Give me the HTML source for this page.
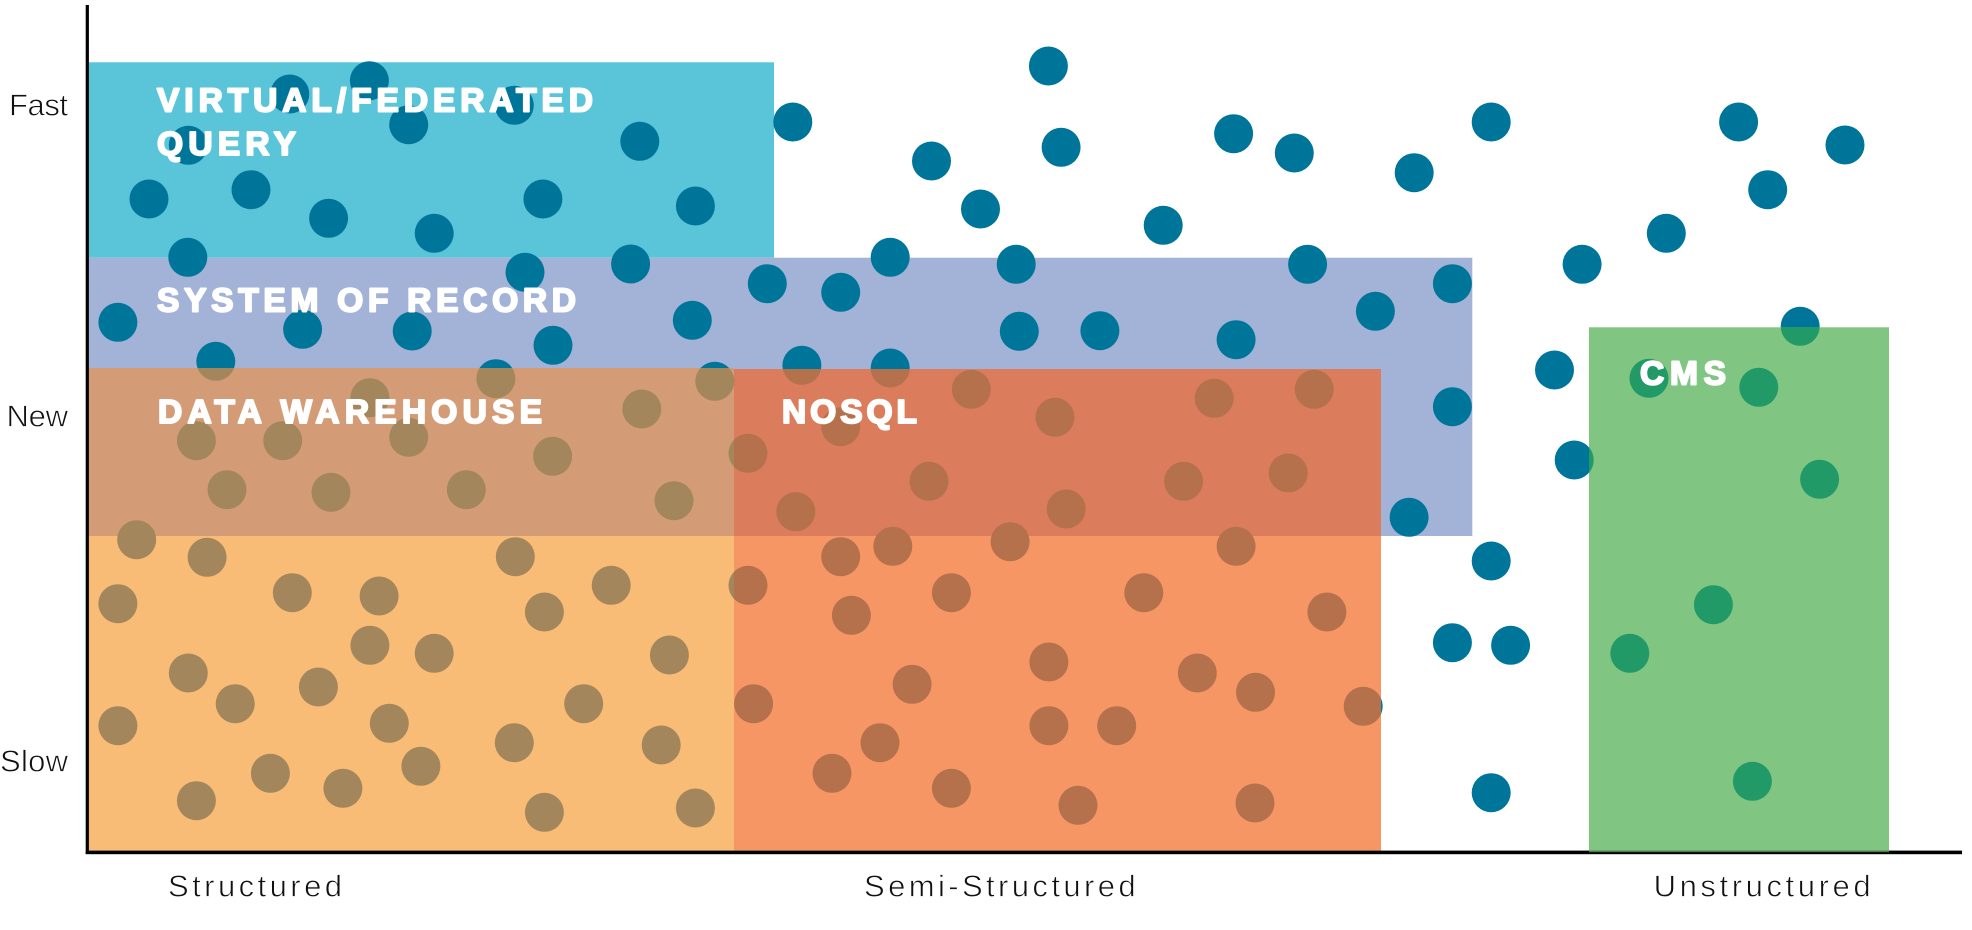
<!DOCTYPE html>
<html lang="en">
<head>
<meta charset="utf-8">
<title>Data store chart</title>
<style>
html,body{margin:0;padding:0;background:#fff;width:1972px;height:930px;overflow:hidden}
svg{display:block}
.b{font-family:"Liberation Sans",sans-serif;font-weight:700;font-size:33.5px;fill:#fff;stroke:#fff;stroke-width:2px;stroke-linejoin:round}
.t{font-family:"Liberation Sans",sans-serif;font-size:31px;fill:#111;stroke:#fff;stroke-width:0.7px}
</style>
</head>
<body>
<svg xmlns="http://www.w3.org/2000/svg" width="1972" height="930" viewBox="0 0 1972 930">
<defs>
<g id="d">
<circle cx="289.8" cy="94" r="19.5"/><circle cx="369.4" cy="80.7" r="19.5"/><circle cx="514.3" cy="105.3" r="19.5"/><circle cx="408.7" cy="124.7" r="19.5"/><circle cx="188.3" cy="145.3" r="19.5"/><circle cx="639.8" cy="141.3" r="19.5"/><circle cx="149" cy="199" r="19.5"/><circle cx="251" cy="189.7" r="19.5"/><circle cx="328.6" cy="218.3" r="19.5"/><circle cx="434.2" cy="233.3" r="19.5"/><circle cx="542.9" cy="199" r="19.5"/><circle cx="695.4" cy="206" r="19.5"/><circle cx="792.8" cy="122" r="19.5"/><circle cx="187.8" cy="257.3" r="19.5"/><circle cx="525" cy="272.3" r="19.5"/><circle cx="630.6" cy="264" r="19.5"/><circle cx="767.3" cy="283.7" r="19.5"/><circle cx="117.9" cy="322.3" r="19.5"/><circle cx="302.6" cy="329.3" r="19.5"/><circle cx="412.2" cy="331" r="19.5"/><circle cx="553" cy="345.3" r="19.5"/><circle cx="692.3" cy="320.3" r="19.5"/><circle cx="215.8" cy="361.3" r="19.5"/><circle cx="495.9" cy="378.7" r="19.5"/><circle cx="714.8" cy="381.3" r="19.5"/><circle cx="369.9" cy="397.7" r="19.5"/><circle cx="641.8" cy="409" r="19.5"/><circle cx="196.4" cy="440.7" r="19.5"/><circle cx="282.7" cy="440.7" r="19.5"/><circle cx="408.7" cy="437.3" r="19.5"/><circle cx="552.6" cy="456.3" r="19.5"/><circle cx="748" cy="453.3" r="19.5"/>
<circle cx="227" cy="489.7" r="19.5"/><circle cx="331" cy="492.3" r="19.5"/><circle cx="466.3" cy="489.7" r="19.5"/><circle cx="674" cy="500.7" r="19.5"/><circle cx="795.8" cy="511.7" r="19.5"/><circle cx="136.7" cy="539.7" r="19.5"/><circle cx="207.1" cy="557.3" r="19.5"/><circle cx="515.3" cy="556.7" r="19.5"/><circle cx="292.3" cy="592.7" r="19.5"/><circle cx="379.1" cy="596" r="19.5"/><circle cx="611.2" cy="585.3" r="19.5"/><circle cx="748" cy="585.3" r="19.5"/><circle cx="117.9" cy="603.7" r="19.5"/><circle cx="544.4" cy="612" r="19.5"/><circle cx="369.9" cy="645.3" r="19.5"/><circle cx="434.2" cy="653.3" r="19.5"/><circle cx="669.4" cy="655" r="19.5"/><circle cx="188.3" cy="673" r="19.5"/><circle cx="235.2" cy="703.7" r="19.5"/><circle cx="318.4" cy="687" r="19.5"/><circle cx="583.7" cy="703.7" r="19.5"/><circle cx="753.6" cy="703.7" r="19.5"/><circle cx="117.9" cy="725.7" r="19.5"/><circle cx="389.3" cy="723.3" r="19.5"/><circle cx="514.3" cy="742.7" r="19.5"/><circle cx="661.2" cy="745" r="19.5"/><circle cx="420.9" cy="766.3" r="19.5"/><circle cx="270.4" cy="773.3" r="19.5"/><circle cx="342.9" cy="788.3" r="19.5"/><circle cx="196.4" cy="800.7" r="19.5"/><circle cx="544.4" cy="812.3" r="19.5"/><circle cx="695.4" cy="808" r="19.5"/>
<circle cx="1048.4" cy="66" r="19.5"/><circle cx="931.5" cy="161" r="19.5"/><circle cx="1061.1" cy="147.3" r="19.5"/><circle cx="1233.6" cy="133.7" r="19.5"/><circle cx="1294.3" cy="153" r="19.5"/><circle cx="1414.2" cy="172.7" r="19.5"/><circle cx="1491.2" cy="122" r="19.5"/><circle cx="980.5" cy="209" r="19.5"/><circle cx="1163.2" cy="225.3" r="19.5"/><circle cx="890.2" cy="257.3" r="19.5"/><circle cx="1016.2" cy="264.3" r="19.5"/><circle cx="1307.6" cy="264.3" r="19.5"/><circle cx="840.7" cy="292.3" r="19.5"/><circle cx="1375.4" cy="311.3" r="19.5"/><circle cx="1452.4" cy="283.7" r="19.5"/><circle cx="1019.3" cy="331.3" r="19.5"/><circle cx="1099.9" cy="330.7" r="19.5"/><circle cx="1236.1" cy="339.7" r="19.5"/><circle cx="801.9" cy="365.3" r="19.5"/><circle cx="890.2" cy="368" r="19.5"/><circle cx="971.3" cy="389.3" r="19.5"/><circle cx="1214.2" cy="398.3" r="19.5"/><circle cx="1314.2" cy="389.3" r="19.5"/><circle cx="1554.5" cy="370" r="19.5"/><circle cx="1452.4" cy="406.7" r="19.5"/><circle cx="1055" cy="417.3" r="19.5"/><circle cx="840.7" cy="426.7" r="19.5"/><circle cx="1574.2" cy="460" r="19.5"/><circle cx="929" cy="481.3" r="19.5"/><circle cx="1183.6" cy="481.3" r="19.5"/><circle cx="1288.2" cy="473" r="19.5"/>
<circle cx="1066.2" cy="509" r="19.5"/><circle cx="1409.1" cy="517.3" r="19.5"/><circle cx="840.7" cy="556.7" r="19.5"/><circle cx="892.8" cy="546.3" r="19.5"/><circle cx="1010.1" cy="541.7" r="19.5"/><circle cx="1236.1" cy="546.3" r="19.5"/><circle cx="1491.2" cy="561" r="19.5"/><circle cx="951.4" cy="592.7" r="19.5"/><circle cx="1143.8" cy="592.7" r="19.5"/><circle cx="851.4" cy="615.3" r="19.5"/><circle cx="1326.9" cy="612" r="19.5"/><circle cx="1452.4" cy="642.7" r="19.5"/><circle cx="1510.6" cy="645.3" r="19.5"/><circle cx="1048.9" cy="662" r="19.5"/><circle cx="912.1" cy="684.3" r="19.5"/><circle cx="1197.3" cy="673" r="19.5"/><circle cx="1255.5" cy="692.3" r="19.5"/><circle cx="1363.2" cy="706.3" r="19.5"/><circle cx="1048.9" cy="725.7" r="19.5"/><circle cx="1116.7" cy="725.7" r="19.5"/><circle cx="880" cy="742.7" r="19.5"/><circle cx="832" cy="773.3" r="19.5"/><circle cx="951.4" cy="788.3" r="19.5"/><circle cx="1078" cy="805.3" r="19.5"/><circle cx="1255" cy="803" r="19.5"/><circle cx="1491.2" cy="792.7" r="19.5"/>
<circle cx="1738.6" cy="122" r="19.5"/><circle cx="1845" cy="145" r="19.5"/><circle cx="1767.7" cy="189.7" r="19.5"/><circle cx="1666.3" cy="233.3" r="19.5"/><circle cx="1582.1" cy="264.3" r="19.5"/><circle cx="1800.2" cy="326.3" r="19.5"/><circle cx="1649" cy="378.3" r="19.5"/><circle cx="1758.8" cy="387.3" r="19.5"/><circle cx="1819.6" cy="479.3" r="19.5"/><circle cx="1713.4" cy="604.7" r="19.5"/><circle cx="1629.8" cy="653.3" r="19.5"/><circle cx="1752.4" cy="781.3" r="19.5"/>
</g>
<clipPath id="c1"><rect x="88.8" y="368" width="645.2" height="482.5"/></clipPath>
<clipPath id="c2"><rect x="734" y="369" width="647" height="481.5"/></clipPath>
<clipPath id="c3"><rect x="1589" y="327.3" width="300" height="525"/></clipPath>
</defs>

<rect x="88.8" y="62.3" width="685.2" height="195.4" fill="#5AC4D8"/>
<rect x="88.8" y="257.7" width="1383.5" height="278.3" fill="#A3B2D7"/>
<use href="#d" fill="#00759A"/>

<rect x="88.8" y="368" width="645.2" height="168" fill="#D49C76"/>
<rect x="88.8" y="536" width="645.2" height="314.5" fill="#F8BC76"/>
<use href="#d" fill="#A3865C" clip-path="url(#c1)"/>

<rect x="734" y="369" width="647" height="167" fill="#DB7D5C"/>
<rect x="734" y="536" width="647" height="314.5" fill="#F69665"/>
<use href="#d" fill="#B5704C" clip-path="url(#c2)"/>

<rect x="85.7" y="5" width="3.2" height="849" fill="#000"/>
<rect x="85.7" y="850.6" width="1876.3" height="3.6" fill="#000"/>

<rect x="1589" y="327.3" width="300" height="523.5" fill="#81C583"/>
<use href="#d" fill="#219A67" clip-path="url(#c3)"/>
<rect x="1589" y="850.6" width="300" height="1.6" fill="#4f7a50"/>

<text class="b" x="157" y="111.3" textLength="436" lengthAdjust="spacing">VIRTUAL/FEDERATED</text>
<text class="b" x="157" y="155" textLength="139" lengthAdjust="spacing">QUERY</text>
<text class="b" x="157" y="311.3" textLength="419" lengthAdjust="spacing">SYSTEM OF RECORD</text>
<text class="b" x="158" y="422.8" textLength="384" lengthAdjust="spacing">DATA WAREHOUSE</text>
<text class="b" x="782" y="422.8" textLength="135" lengthAdjust="spacing">NOSQL</text>
<text class="b" x="1640" y="384.3" textLength="86" lengthAdjust="spacing">CMS</text>

<text class="t" x="9" y="115.3" textLength="59" lengthAdjust="spacing">Fast</text>
<text class="t" x="6.5" y="426.7" textLength="61.5" lengthAdjust="spacing">New</text>
<text class="t" x="0" y="771.7" textLength="68" lengthAdjust="spacing">Slow</text>
<text class="t" x="168" y="896.7" textLength="174" lengthAdjust="spacing">Structured</text>
<text class="t" x="864" y="896.7" textLength="271.6" lengthAdjust="spacing">Semi-Structured</text>
<text class="t" x="1653.6" y="896.7" textLength="217" lengthAdjust="spacing">Unstructured</text>
</svg>
</body>
</html>
